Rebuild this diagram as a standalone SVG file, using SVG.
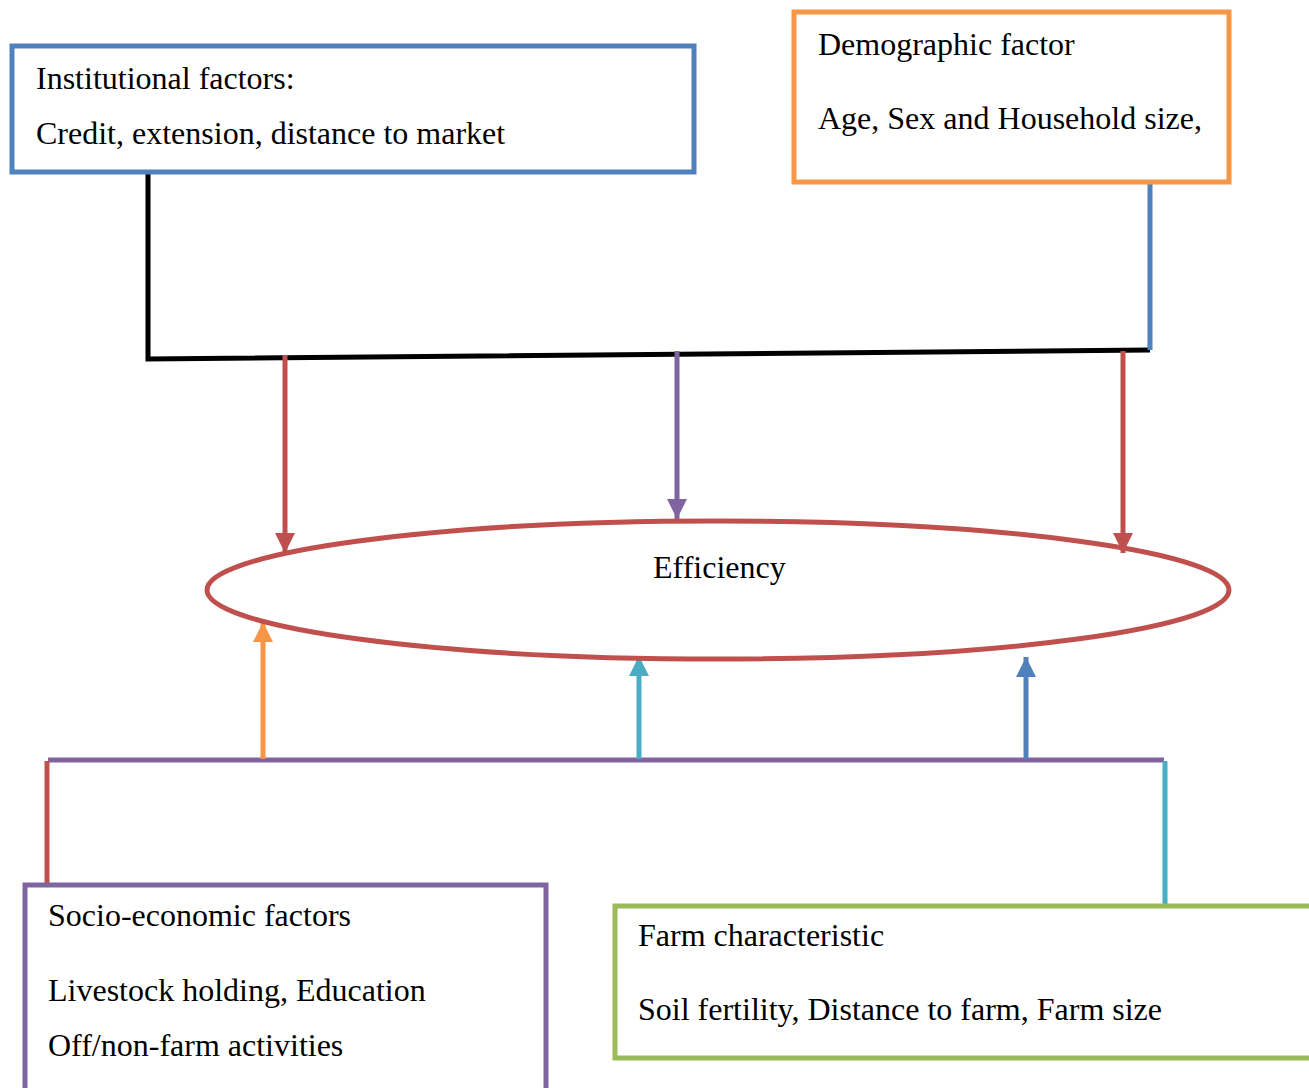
<svg xmlns="http://www.w3.org/2000/svg" width="1309" height="1088" viewBox="0 0 1309 1088">
<style>
text{font-family:"Liberation Serif","Times New Roman",serif;font-size:32px;fill:#000}
.box{fill:#fff;stroke-width:5}
.ln{fill:none;stroke-width:5}
</style>
<defs>
<marker id="mr" viewBox="0 0 10 10" refX="10" refY="5" markerWidth="4" markerHeight="4" orient="auto" markerUnits="strokeWidth"><path d="M0,0L10,5L0,10z" fill="#C0504D"/></marker>
<marker id="mp" viewBox="0 0 10 10" refX="10" refY="5" markerWidth="4" markerHeight="4" orient="auto" markerUnits="strokeWidth"><path d="M0,0L10,5L0,10z" fill="#8064A2"/></marker>
<marker id="mo" viewBox="0 0 10 10" refX="10" refY="5" markerWidth="4" markerHeight="4" orient="auto" markerUnits="strokeWidth"><path d="M0,0L10,5L0,10z" fill="#F79646"/></marker>
<marker id="mc" viewBox="0 0 10 10" refX="10" refY="5" markerWidth="4" markerHeight="4" orient="auto" markerUnits="strokeWidth"><path d="M0,0L10,5L0,10z" fill="#4BACC6"/></marker>
<marker id="mb" viewBox="0 0 10 10" refX="10" refY="5" markerWidth="4" markerHeight="4" orient="auto" markerUnits="strokeWidth"><path d="M0,0L10,5L0,10z" fill="#4F81BD"/></marker>
</defs>
<g id="connectors">
<path class="ln" d="M148,172V359L1150,350" stroke="#000"/>
<path class="ln" d="M1150,182V350" stroke="#4F81BD"/>
<path class="ln" d="M285,355V553" stroke="#C0504D" marker-end="url(#mr)"/>
<path class="ln" d="M677,351V519" stroke="#8064A2" marker-end="url(#mp)"/>
<path class="ln" d="M1123,351V553" stroke="#C0504D" marker-end="url(#mr)"/>
<path class="ln" d="M48,760H1164" stroke="#8064A2"/>
<path class="ln" d="M47,761V885" stroke="#C0504D"/>
<path class="ln" d="M1165,761V905" stroke="#4BACC6"/>
<path class="ln" d="M263,759V622" stroke="#F79646" marker-end="url(#mo)"/>
<path class="ln" d="M639,759V656" stroke="#4BACC6" marker-end="url(#mc)"/>
<path class="ln" d="M1026,759V657" stroke="#4F81BD" marker-end="url(#mb)"/>
</g>
<g id="institutional">
<rect class="box" x="12" y="46" width="682" height="126" stroke="#4F81BD"/>
<text x="36" y="89">Institutional factors:</text>
<text x="36" y="144">Credit, extension, distance to market</text>
</g>
<g id="demographic">
<rect class="box" x="794" y="12" width="435" height="170" stroke="#F79646"/>
<text x="818" y="55">Demographic factor</text>
<text x="818" y="129">Age, Sex and Household size,</text>
</g>
<g id="efficiency">
<ellipse cx="718" cy="590" rx="511" ry="69" fill="none" stroke="#C0504D" stroke-width="5"/>
<text x="653" y="578">Efficiency</text>
</g>
<g id="socio">
<rect class="box" x="25" y="885" width="521" height="210" stroke="#8064A2"/>
<text x="48" y="926">Socio-economic factors</text>
<text x="48" y="1001">Livestock holding, Education</text>
<text x="48" y="1056">Off/non-farm activities</text>
</g>
<g id="farm">
<rect class="box" x="615" y="906" width="700" height="152" stroke="#9BBB59"/>
<text x="638" y="946">Farm characteristic</text>
<text x="638" y="1020">Soil fertility, Distance to farm, Farm size</text>
</g>
</svg>
